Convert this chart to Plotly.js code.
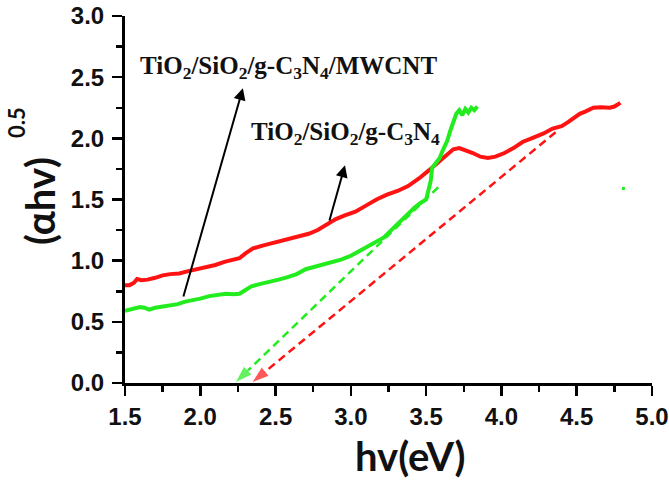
<!DOCTYPE html>
<html>
<head>
<meta charset="utf-8">
<script src="https://cdn.plot.ly/plotly-3.0.1.min.js"></script>
<style>
  html, body { margin: 0; padding: 0; background: #ffffff; }
  #chart { width: 669px; height: 480px; }
</style>
</head>
<body>
<div id="chart"></div>
<script>
// Tauc plot: (αhν)^0.5 versus photon energy for the two composites.

// TiO2/SiO2/g-C3N4 (red)
const redX = [1.50, 1.53, 1.56, 1.58, 1.61, 1.65, 1.70, 1.75, 1.80, 1.86, 1.92, 1.98, 2.04, 2.10,
  2.16, 2.22, 2.26, 2.30, 2.35, 2.42, 2.50, 2.58, 2.66, 2.72, 2.78, 2.84, 2.90, 2.96, 3.03, 3.10,
  3.17, 3.24, 3.31, 3.38, 3.45, 3.52, 3.58, 3.63, 3.68, 3.72, 3.76, 3.81, 3.86, 3.91, 3.96, 4.02,
  4.08, 4.14, 4.20, 4.28, 4.34, 4.40, 4.44, 4.48, 4.52, 4.56, 4.61, 4.66, 4.72, 4.75, 4.79];
const redY = [0.80, 0.80, 0.82, 0.85, 0.84, 0.845, 0.86, 0.88, 0.89, 0.895, 0.915, 0.93, 0.945, 0.965,
  0.99, 1.005, 1.02, 1.06, 1.10, 1.125, 1.15, 1.18, 1.20, 1.22, 1.25, 1.30, 1.34, 1.37, 1.40, 1.45,
  1.50, 1.54, 1.57, 1.61, 1.67, 1.74, 1.80, 1.86, 1.91, 1.92, 1.905, 1.88, 1.85, 1.84, 1.85, 1.88,
  1.92, 1.97, 2.00, 2.04, 2.08, 2.10, 2.13, 2.17, 2.20, 2.22, 2.25, 2.255, 2.25, 2.26, 2.29];

// TiO2/SiO2/g-C3N4/MWCNT (green)
const greenX = [1.50, 1.53, 1.56, 1.60, 1.63, 1.66, 1.70, 1.75, 1.80, 1.85, 1.90, 1.95, 2.00, 2.06,
  2.12, 2.17, 2.22, 2.26, 2.30, 2.34, 2.40, 2.46, 2.52, 2.58, 2.64, 2.70, 2.76, 2.82, 2.88, 2.94,
  3.00, 3.06, 3.12, 3.17, 3.22, 3.26, 3.30, 3.34, 3.38, 3.42, 3.46, 3.50, 3.51, 3.53, 3.54, 3.56,
  3.59, 3.61, 3.64, 3.66, 3.68, 3.70, 3.72, 3.74, 3.76, 3.78, 3.80, 3.82, 3.84];
const greenY = [0.59, 0.60, 0.61, 0.62, 0.615, 0.60, 0.615, 0.625, 0.63, 0.645, 0.665, 0.675, 0.69, 0.71,
  0.725, 0.73, 0.725, 0.73, 0.76, 0.79, 0.81, 0.825, 0.845, 0.865, 0.89, 0.93, 0.95, 0.97, 0.985, 1.01,
  1.04, 1.08, 1.12, 1.15, 1.19, 1.24, 1.29, 1.34, 1.39, 1.43, 1.47, 1.50, 1.55, 1.65, 1.76, 1.79,
  1.84, 1.90, 1.98, 2.06, 2.14, 2.20, 2.23, 2.19, 2.24, 2.21, 2.25, 2.23, 2.26];

// Linear extrapolations to the energy axis (band-gap intercepts)
const redFitX = [4.36, 2.34];
const redFitY = [2.05, 0.0];
const greenFitX = [3.58, 2.23];
const greenFitY = [1.60, 0.0];

// Lone green point at high energy
const strayX = [4.81];
const strayY = [1.59];

// Axis tick values
const xTicks = [1.5, 2.0, 2.5, 3.0, 3.5, 4.0, 4.5, 5.0];
const yTicks = [0.0, 0.5, 1.0, 1.5, 2.0, 2.5, 3.0];

// Sample labels
const labelMWCNT = 'TiO<sub>2</sub>/SiO<sub>2</sub>/g-C<sub>3</sub>N<sub>4</sub>/MWCNT';
const labelBase = 'TiO<sub>2</sub>/SiO<sub>2</sub>/g-C<sub>3</sub>N<sub>4</sub>';

const RED = '#ff1212';
const GREEN = '#22ec1e';

const traces = [
  { x: redX, y: redY, type: 'scatter', mode: 'lines', line: { color: RED, width: 4 }, hoverinfo: 'skip' },
  { x: greenX, y: greenY, type: 'scatter', mode: 'lines', line: { color: GREEN, width: 4 }, hoverinfo: 'skip' },
  { x: greenFitX, y: greenFitY, type: 'scatter', mode: 'lines+markers',
    line: { color: GREEN, width: 2.5, dash: '8px,5px' },
    marker: { symbol: 'arrow', angleref: 'previous', size: [0, 19], color: GREEN, standoff: 0 },
    hoverinfo: 'skip' },
  { x: redFitX, y: redFitY, type: 'scatter', mode: 'lines+markers',
    line: { color: RED, width: 2.5, dash: '8px,5px' },
    marker: { symbol: 'arrow', angleref: 'previous', size: [0, 19], color: RED, standoff: 0 },
    hoverinfo: 'skip' },
  { x: strayX, y: strayY, type: 'scatter', mode: 'markers',
    marker: { color: GREEN, size: 3, symbol: 'square' }, hoverinfo: 'skip' }
];

const tickFont = { family: 'Liberation Sans, Arial, sans-serif', size: 24, weight: 'bold', color: '#111111' };
const axisCommon = {
  showgrid: false, zeroline: false,
  showline: true, linecolor: '#000000', linewidth: 3,
  ticks: 'outside', ticklen: 10, tickwidth: 2.5, tickcolor: '#000000',
  tickformat: '.1f', tickfont: tickFont,
  minor: { ticks: 'outside', ticklen: 6, tickwidth: 2.5, tickcolor: '#000000' }
};

const labelFont = { family: 'Liberation Serif, Times New Roman, serif', size: 25, weight: 'bold', color: '#111111' };
const titleFont = { family: 'Lato, Open Sans, sans-serif', size: 40, weight: 'bold', color: '#111111' };

const layout = {
  width: 669, height: 480,
  margin: { l: 125, r: 17, t: 16, b: 97 },
  paper_bgcolor: '#ffffff', plot_bgcolor: '#ffffff',
  showlegend: false,
  xaxis: Object.assign({}, axisCommon, {
    range: [1.5, 5.0], tickvals: xTicks, minor: Object.assign({}, axisCommon.minor, { dtick: 0.25, tick0: 1.5 })
  }),
  yaxis: Object.assign({}, axisCommon, {
    range: [0, 3.0], tickvals: yTicks, ticklabelstandoff: 3,
    minor: Object.assign({}, axisCommon.minor, { dtick: 0.25, tick0: 0 })
  }),
  annotations: [
    { x: 2.586, y: 2.58, xref: 'x', yref: 'y', text: labelMWCNT, showarrow: false, font: labelFont },
    { x: 2.967, y: 2.04, xref: 'x', yref: 'y', text: labelBase, showarrow: false, font: labelFont },
    { x: 2.283, y: 2.41, ax: 1.885, ay: 0.695, xref: 'x', yref: 'y', axref: 'x', ayref: 'y',
      text: '', showarrow: true, arrowhead: 2, arrowsize: 1.2, arrowwidth: 2, arrowcolor: '#000000' },
    { x: 2.961, y: 1.78, ax: 2.855, ay: 1.316, xref: 'x', yref: 'y', axref: 'x', ayref: 'y',
      text: '', showarrow: true, arrowhead: 2, arrowsize: 1.2, arrowwidth: 2, arrowcolor: '#000000' },
    { x: 0.541, y: -0.199, xref: 'paper', yref: 'paper', text: 'hv(eV)', showarrow: false,
      xanchor: 'center', yanchor: 'middle', font: titleFont },
    { x: -0.161, y: 0.496, xref: 'paper', yref: 'paper', text: '(αhv)', showarrow: false, textangle: -90,
      xanchor: 'center', yanchor: 'middle', font: titleFont },
    { x: -0.207, y: 0.711, xref: 'paper', yref: 'paper', text: '0.5', showarrow: false, textangle: -90,
      xanchor: 'center', yanchor: 'middle', font: { family: 'Lato, Open Sans, sans-serif', size: 22, weight: 'bold', color: '#111111' } }
  ]
};

Plotly.newPlot('chart', traces, layout, { staticPlot: true, displayModeBar: false });
</script>
</body>
</html>
